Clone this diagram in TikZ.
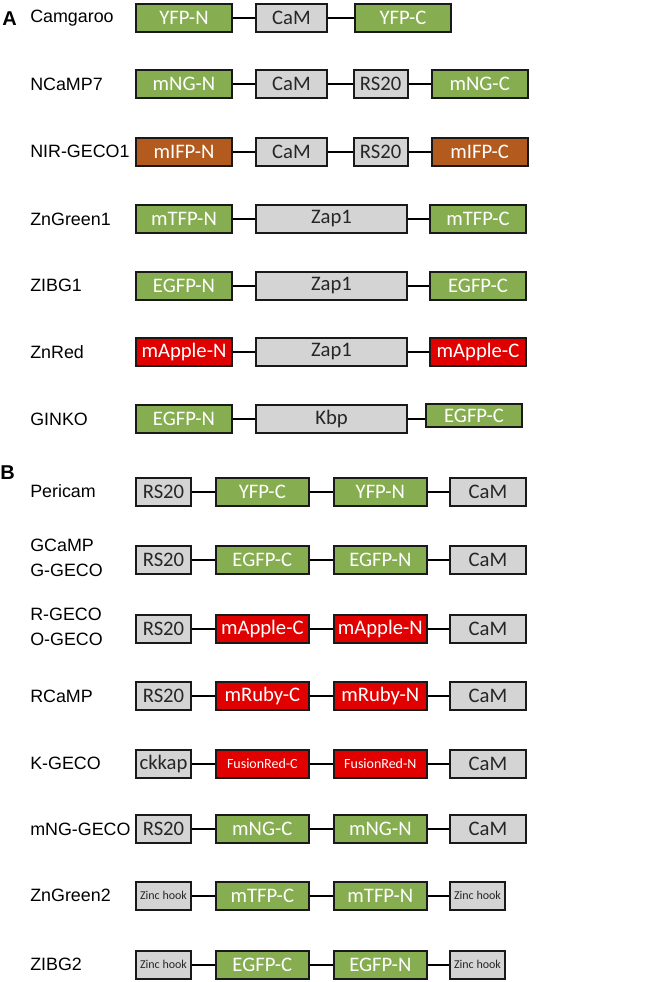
\documentclass[tikz,border=0pt]{standalone}
\usepackage{fontspec}
\setmainfont{Liberation Sans}
\newfontfamily\carl{Carlito}
\usetikzlibrary{positioning}

\definecolor{fpgreen}{HTML}{86AD4F}
\definecolor{fpred}{HTML}{E00000}
\definecolor{fpbrown}{HTML}{B35A1F}
\definecolor{domgrey}{HTML}{D4D4D4}

\begin{document}
\begin{tikzpicture}[
            x=0.75pt, y=-0.75pt,
            box/.style={rectangle, draw=black!90, line width=1.5pt, minimum height=21pt, inner sep=0pt, font=\carl\fontsize{15.5}{17}\selectfont},
            green/.style={box, fill=fpgreen, text=white},
            red/.style={box, fill=fpred, text=white},
            brown/.style={box, fill=fpbrown, text=white},
            grey/.style={box, fill=domgrey, text=black!85},
            big/.style={minimum width=72pt},
            cam/.style={minimum width=53.25pt},
            rs/.style={minimum width=40.5pt},
            zap/.style={minimum width=113.25pt},
            bs/.style={minimum width=41.25pt},
            bfp/.style={minimum width=70pt},
            bcam/.style={minimum width=57pt},
            hook/.style={font=\carl\fontsize{9}{10}\selectfont},
            lbl/.style={anchor=west, inner sep=0pt, align=left, font=\fontsize{13.4}{19}\selectfont},
            panel/.style={anchor=west, inner sep=0pt, font=\bfseries\fontsize{15}{15}\selectfont},
            link/.style={line width=1.5pt}
        ]
        \useasboundingbox (0,0) rectangle (650,982);

        % panel A
        \node[panel] (pa) at (2,19) {A};

        \node[lbl] (camgaroo) at (30,18) {Camgaroo};
        \node[green, big, anchor=west] (cg1) at (135,18) {YFP-N};
        \node[grey, cam, right=16.5pt of cg1] (cg2) {CaM};
        \node[green, big, right=19.5pt of cg2] (cg3) {YFP-C};
        \draw[link] (cg1) -- (cg2);
        \draw[link] (cg2) -- (cg3);

        \node[lbl] (ncamp) at (30,84) {NCaMP7};
        \node[green, big, anchor=west] (nc1) at (135,84) {mNG-N};
        \node[grey, cam, right=16.5pt of nc1] (nc2) {CaM};
        \node[grey, rs, right=18.5pt of nc2] (nc3) {RS20};
        \node[green, big, right=16.5pt of nc3] (nc4) {mNG-C};
        \draw[link] (nc1) -- (nc2);
        \draw[link] (nc2) -- (nc3);
        \draw[link] (nc3) -- (nc4);

        \node[lbl] (nir) at (30,151.5) {NIR-GECO1};
        \node[brown, big, anchor=west] (ni1) at (135,151.5) {mIFP-N};
        \node[grey, cam, right=16.5pt of ni1] (ni2) {CaM};
        \node[grey, rs, right=18.5pt of ni2] (ni3) {RS20};
        \node[brown, big, right=16.5pt of ni3] (ni4) {mIFP-C};
        \draw[link] (ni1) -- (ni2);
        \draw[link] (ni2) -- (ni3);
        \draw[link] (ni3) -- (ni4);

        \node[lbl] (zng1) at (30,219) {ZnGreen1};
        \node[green, big, anchor=west] (zg1) at (135,219) {mTFP-N};
        \node[grey, zap, right=16.5pt of zg1] (zg2) {Zap1};
        \node[green, big, right=15.75pt of zg2] (zg3) {mTFP-C};
        \draw[link] (zg1) -- (zg2);
        \draw[link] (zg2) -- (zg3);

        \node[lbl] (zibg1) at (30,285.5) {ZIBG1};
        \node[green, big, anchor=west] (zb1) at (135,285.5) {EGFP-N};
        \node[grey, zap, right=16.5pt of zb1] (zb2) {Zap1};
        \node[green, big, right=15.75pt of zb2] (zb3) {EGFP-C};
        \draw[link] (zb1) -- (zb2);
        \draw[link] (zb2) -- (zb3);

        \node[lbl] (znred) at (30,352) {ZnRed};
        \node[red, big, anchor=west] (zr1) at (135,352) {mApple-N};
        \node[grey, zap, right=16.5pt of zr1] (zr2) {Zap1};
        \node[red, big, right=15.75pt of zr2] (zr3) {mApple-C};
        \draw[link] (zr1) -- (zr2);
        \draw[link] (zr2) -- (zr3);

        \node[lbl] (ginko) at (30,419) {GINKO};
        \node[green, big, anchor=west] (gk1) at (135,419) {EGFP-N};
        \node[grey, zap, right=16.5pt of gk1] (gk2) {Kbp};
        \node[green, big, minimum height=17.25pt, anchor=west] (gk3) at (425,415.5) {EGFP-C};
        \draw[link] (gk1) -- (gk2);
        \draw[link] (gk2.east) -- (gk2.east -| gk3.west);

        % panel B
        \node[panel] (pb) at (0,473) {B};

        \node[lbl] (pericam) at (30,491.5) {Pericam};
        \node[grey, bs, anchor=west] (pc1) at (135,491.5) {RS20};
        \node[green, bfp, right=17pt of pc1] (pc2) {YFP-C};
        \node[green, bfp, right=17pt of pc2] (pc3) {YFP-N};
        \node[grey, bcam, right=15.75pt of pc3] (pc4) {CaM};
        \draw[link] (pc1) -- (pc2);
        \draw[link] (pc2) -- (pc3);
        \draw[link] (pc3) -- (pc4);

        \node[lbl] (gcamp) at (30,558) {GCaMP\\G-GECO};
        \node[grey, bs, anchor=west] (gc1) at (135,559.5) {RS20};
        \node[green, bfp, right=17pt of gc1] (gc2) {EGFP-C};
        \node[green, bfp, right=17pt of gc2] (gc3) {EGFP-N};
        \node[grey, bcam, right=15.75pt of gc3] (gc4) {CaM};
        \draw[link] (gc1) -- (gc2);
        \draw[link] (gc2) -- (gc3);
        \draw[link] (gc3) -- (gc4);

        \node[lbl] (rgeco) at (30,627) {R-GECO\\O-GECO};
        \node[grey, bs, anchor=west] (rg1) at (135,628.5) {RS20};
        \node[red, bfp, right=17pt of rg1] (rg2) {mApple-C};
        \node[red, bfp, right=17pt of rg2] (rg3) {mApple-N};
        \node[grey, bcam, right=15.75pt of rg3] (rg4) {CaM};
        \draw[link] (rg1) -- (rg2);
        \draw[link] (rg2) -- (rg3);
        \draw[link] (rg3) -- (rg4);

        \node[lbl] (rcamp) at (30,696) {RCaMP};
        \node[grey, bs, anchor=west] (rc1) at (135,696) {RS20};
        \node[red, bfp, right=17pt of rc1] (rc2) {mRuby-C};
        \node[red, bfp, right=17pt of rc2] (rc3) {mRuby-N};
        \node[grey, bcam, right=15.75pt of rc3] (rc4) {CaM};
        \draw[link] (rc1) -- (rc2);
        \draw[link] (rc2) -- (rc3);
        \draw[link] (rc3) -- (rc4);

        \node[lbl] (kgeco) at (30,763.5) {K-GECO};
        \node[grey, bs, anchor=west] (kg1) at (135,763.5) {ckkap};
        \node[red, bfp, right=17pt of kg1, font=\carl\fontsize{10.5}{12}\selectfont] (kg2) {FusionRed-C};
        \node[red, bfp, right=17pt of kg2, font=\carl\fontsize{10.5}{12}\selectfont] (kg3) {FusionRed-N};
        \node[grey, bcam, right=15.75pt of kg3] (kg4) {CaM};
        \draw[link] (kg1) -- (kg2);
        \draw[link] (kg2) -- (kg3);
        \draw[link] (kg3) -- (kg4);

        \node[lbl] (mnggeco) at (30,829) {mNG-GECO};
        \node[grey, bs, anchor=west] (mg1) at (135,829) {RS20};
        \node[green, bfp, right=17pt of mg1] (mg2) {mNG-C};
        \node[green, bfp, right=17pt of mg2] (mg3) {mNG-N};
        \node[grey, bcam, right=15.75pt of mg3] (mg4) {CaM};
        \draw[link] (mg1) -- (mg2);
        \draw[link] (mg2) -- (mg3);
        \draw[link] (mg3) -- (mg4);

        \node[lbl] (zng2) at (30,895.5) {ZnGreen2};
        \node[grey, bs, hook, anchor=west] (zh1) at (135,895.5) {Zinc hook};
        \node[green, bfp, right=17pt of zh1] (zh2) {mTFP-C};
        \node[green, bfp, right=17pt of zh2] (zh3) {mTFP-N};
        \node[grey, bs, hook, right=15.75pt of zh3] (zh4) {Zinc hook};
        \draw[link] (zh1) -- (zh2);
        \draw[link] (zh2) -- (zh3);
        \draw[link] (zh3) -- (zh4);

        \node[lbl] (zibg2) at (30,964.5) {ZIBG2};
        \node[grey, bs, hook, anchor=west] (zi1) at (135,964.5) {Zinc hook};
        \node[green, bfp, right=17pt of zi1] (zi2) {EGFP-C};
        \node[green, bfp, right=17pt of zi2] (zi3) {EGFP-N};
        \node[grey, bs, hook, right=15.75pt of zi3] (zi4) {Zinc hook};
        \draw[link] (zi1) -- (zi2);
        \draw[link] (zi2) -- (zi3);
        \draw[link] (zi3) -- (zi4);
\end{tikzpicture}
\end{document}
